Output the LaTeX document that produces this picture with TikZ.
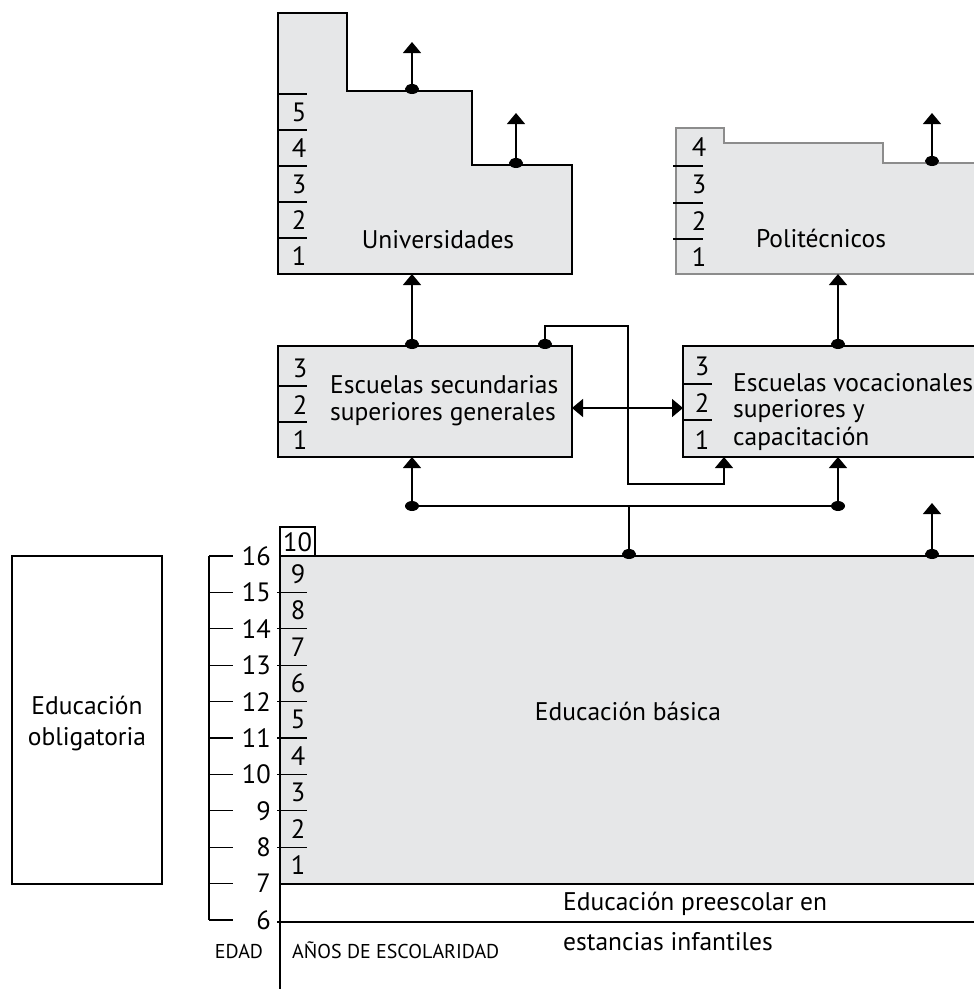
\documentclass[tikz,border=0pt]{standalone}
\usepackage{fontspec}
\setmainfont{PT Sans}
\usetikzlibrary{arrows.meta}
\definecolor{boxfill}{HTML}{E6E7E8}
\definecolor{polyedge}{HTML}{8C8C8C}
\begin{document}
\begin{tikzpicture}[x=1pt,y=-1pt,
  box/.style={draw=black,line width=1.5pt,fill=boxfill},
  conn/.style={line width=1.4pt,draw=black},
  arr/.style={conn,-{Triangle[width=18pt,length=11pt]}},
  dotarr/.style={conn,{Ellipse[width=14pt,length=10pt]}-{Triangle[width=18pt,length=11pt]}},
  dotend/.style={conn,-{Ellipse[width=14pt,length=10pt]}},
  tickline/.style={line width=1.3pt},
  lbl/.style={font=\fontsize{25.5}{27}\selectfont, inner sep=0pt},
  num/.style={font=\fontsize{26.5}{29}\selectfont, inner sep=0pt},
  small/.style={font=\fontsize{20}{22}\selectfont, inner sep=0pt}]
\clip (0,0) rectangle (974,989);
\fill[white] (0,0) rectangle (974,989);

% ---------- Universidades ----------
\draw[box] (278,13) -- (347,13) -- (347,91) -- (472,91) -- (472,165) -- (572,165) -- (572,274) -- (278,274) -- cycle;
\foreach \y in {94,130,166,202,238} \draw[tickline] (278,\y) -- (307,\y);
\foreach \n/\y in {5/112,4/148,3/184,2/220,1/256} \node[num] (uy\n) at (299,\y) {\n};
\node[lbl,anchor=base] (uni) at (438,248) {Universidades};
\coordinate (uniA) at (412,94);  \coordinate (uniAt) at (412,42);
\coordinate (uniB) at (516,168); \coordinate (uniBt) at (516,113);
\coordinate (uniS) at (412,274);

% ---------- Politecnicos ----------
\draw[box,draw=polyedge] (676,128) -- (724,128) -- (724,143) -- (883,143) -- (883,163) -- (985,163) -- (985,274) -- (676,274) -- cycle;
\foreach \y in {166,203,239} \draw[tickline] (673,\y) -- (703,\y);
\foreach \n/\y in {4/147,3/184,2/221,1/257} \node[num] (py\n) at (699,\y) {\n};
\node[lbl,anchor=base] (poli) at (821,247) {Politécnicos};
\coordinate (poliA) at (932,166); \coordinate (poliAt) at (932,113);
\coordinate (poliS) at (838,274);

% ---------- Escuelas secundarias ----------
\draw[box] (278,346) rectangle (572,457);
\foreach \y in {386,422} \draw[tickline] (278,\y) -- (307,\y);
\foreach \n/\y in {3/368,2/405,1/440} \node[num] (ey\n) at (300,\y) {\n};
\node[lbl,anchor=base west] (esg1) at (330,393) {Escuelas secundarias};
\node[lbl,anchor=base west] (esg2) at (330,420) {superiores generales};
\coordinate (esgT) at (412,349);
\coordinate (esgT2) at (545,349);
\coordinate (esgB) at (412,457);
\coordinate (esgR) at (572,408);

% ---------- Escuelas vocacionales ----------
\draw[box] (683,346) rectangle (985,457);
\foreach \y in {384,420} \draw[tickline] (683,\y) -- (712,\y);
\foreach \n/\y in {3/366,2/403,1/440} \node[num] (vy\n) at (702,\y) {\n};
\node[lbl,anchor=base west] (voc1) at (733,391) {Escuelas vocacionales};
\node[lbl,anchor=base west] (voc2) at (733,417) {superiores y};
\node[lbl,anchor=base west] (voc3) at (733,445) {capacitación};
\coordinate (vocT) at (838,349);
\coordinate (vocB) at (838,457);
\coordinate (vocB2) at (724,457);
\coordinate (vocL) at (683,408);

% ---------- Educacion basica ----------
\draw[box] (280,556) rectangle (985,884);
\draw[line width=1.4pt,fill=white] (280,527) rectangle (315,556);
\node[num] (y10) at (297.5,542) {10};
\foreach \a in {8,...,15} \draw[tickline] (277,{556+(16-\a)*36.4}) -- (307,{556+(16-\a)*36.4});
\foreach \n in {1,...,9} \node[num] (yr\n) at (298,{556+(9-\n)*36.4+18.2}) {\n};
\node[lbl,anchor=base] (basica) at (628,720) {Educación básica};
\coordinate (basT) at (629,553);
\coordinate (basA) at (932,559); \coordinate (basAt) at (932,503);

% ---------- preescolar ----------
\draw[line width=1.4pt] (277,922) -- (985,922);
\draw[line width=1.4pt] (280,556) -- (280,989);
\node[lbl,anchor=base west] (pre1) at (563,910) {Educación preescolar en};
\node[lbl,anchor=base west] (pre2) at (563,950) {estancias infantiles};

% ---------- ages ----------
\draw[line width=1.4pt] (209,{556}) -- (209,920);
\foreach \a in {6,...,16} {
  \draw[tickline] (209,{556+(16-\a)*36.4}) -- (233,{556+(16-\a)*36.4});
  \node[num,anchor=east] (age\a) at (271,{556+(16-\a)*36.4}) {\a};
}
\node[small,anchor=base] (edad) at (239,958) {EDAD};
\node[small,anchor=base west] (anos) at (292,958) {AÑOS DE ESCOLARIDAD};

% ---------- Educacion obligatoria ----------
\draw[line width=1.4pt] (12,556) rectangle (162,884);
\node[lbl,anchor=base] (obl1) at (87,714) {Educación};
\node[lbl,anchor=base] (obl2) at (87,745) {obligatoria};

% ---------- connectors ----------
\draw[dotarr] (uniA) -- (uniAt);
\draw[dotarr] (uniB) -- (uniBt);
\draw[dotarr] (poliA) -- (poliAt);
\draw[dotarr] (esgT) -- (uniS);
\draw[dotarr] (vocT) -- (poliS);
\draw[dotarr] (esgT2) -- (545,326) -- (628,326) -- (628,484) -- (vocB2 |- 0,484) -- (vocB2);
\draw[conn,{Triangle[width=18pt,length=11pt]}-{Triangle[width=18pt,length=11pt]}] (esgR) -- (vocL);
\coordinate (hubL) at (412,506);
\coordinate (hubR) at (838,506);
\coordinate (hubM) at (629,506);
\draw[conn] (hubL) -- (hubR);
\draw[arr] (hubL) -- (esgB);
\draw[arr] (hubR) -- (vocB);
\fill (hubL) ellipse [x radius=7, y radius=5];
\fill (hubR) ellipse [x radius=7, y radius=5];
\draw[dotend] (hubM) -- (basT |- 0,559);
\draw[dotarr] (basA) -- (basAt);
\end{tikzpicture}
\end{document}
